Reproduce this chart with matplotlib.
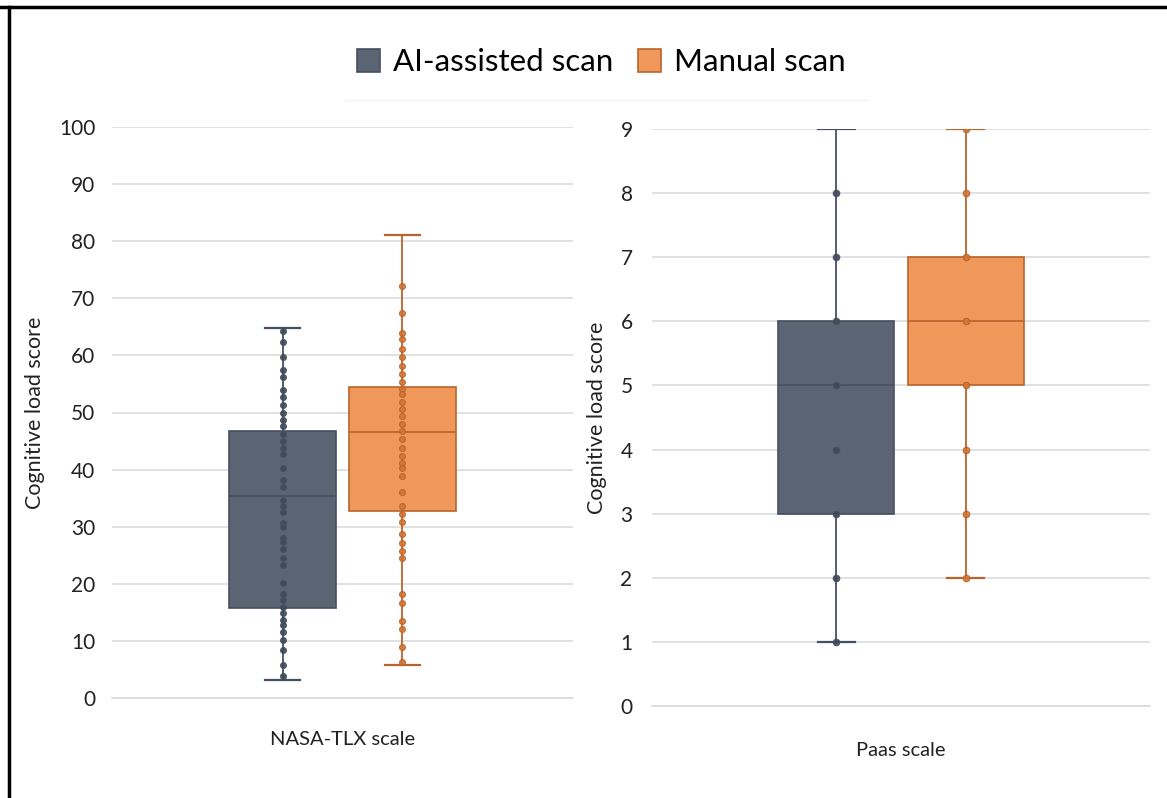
import matplotlib.pyplot as plt
from matplotlib.patches import Patch
from matplotlib.lines import Line2D

plt.rcParams['font.family'] = ['Lato', 'DejaVu Sans']

groups = ['AI-assisted scan', 'Manual scan']

# NASA-TLX scores
tlx_ai = [64.3, 62.4, 59.7, 57.4, 56.3, 53.9, 52.7, 51.4, 50.0, 48.7, 47.6, 46.2,
          45.0, 43.8, 42.7, 40.2, 38.2, 37.0, 34.7, 33.7, 32.5, 30.7, 30.0, 28.1,
          27.3, 26.1, 24.6, 23.3, 20.1, 18.3, 17.2, 16.0, 14.8, 13.7, 12.8, 11.5,
          10.2, 8.4, 5.7, 3.9]
tlx_manual = [72.2, 67.4, 64.0, 62.9, 61.2, 59.7, 58.2, 56.7, 55.4, 54.2, 53.2, 51.8,
              50.6, 49.3, 48.0, 46.8, 45.4, 43.8, 42.3, 41.2, 40.2, 38.8, 36.0, 33.7,
              32.3, 30.8, 28.7, 27.1, 25.7, 24.6, 18.3, 16.6, 13.4, 12.1, 8.9, 6.3]
# box stats: whisker low, q1, median, q3, whisker high
tlx_ai_box = [3.2, 15.7, 35.4, 46.8, 64.8]
tlx_manual_box = [5.7, 32.8, 46.6, 54.4, 81.0]

paas_ai = [1, 2, 3, 4, 5, 6, 7, 8]
paas_manual = [2, 3, 4, 5, 6, 7, 8, 9]
paas_ai_box = [1, 3, 5, 6, 9]
paas_manual_box = [2, 5, 6, 7, 9]

fill_cols = ['#5a6473', '#f0975a']
edge_cols = ['#465060', '#b8642c']
dot_cols = ['#3e4858', '#d4742f']

W, H = 1167, 798
fig = plt.figure(figsize=(W / 100, H / 100), dpi=100)


def make_stats(b):
    return {'whislo': b[0], 'q1': b[1], 'med': b[2], 'q3': b[3], 'whishi': b[4], 'fliers': []}


def draw_panel(ax, boxes, points, yticks, xlabel, dot_size):
    pos = [-0.13, 0.13]
    for i in range(2):
        ax.bxp([make_stats(boxes[i])], positions=[pos[i]], widths=0.233, capwidths=0.075,
               patch_artist=True, showfliers=False,
               boxprops=dict(facecolor=fill_cols[i], edgecolor=edge_cols[i], linewidth=1.2),
               medianprops=dict(color=edge_cols[i], linewidth=1.2),
               whiskerprops=dict(color=edge_cols[i], linewidth=1.3),
               capprops=dict(color=edge_cols[i], linewidth=1.6))
        ax.scatter([pos[i]] * len(points[i]), points[i], s=dot_size, color=dot_cols[i],
                   edgecolor=edge_cols[i], linewidth=0.8, alpha=0.9, zorder=4)
    ax.set_xlim(-0.5, 0.5)
    ax.set_ylim(yticks[0], yticks[-1])
    ax.set_yticks(yticks)
    ax.set_xticks([])
    ax.set_xlabel(xlabel, fontsize=14.5, color='#222222', labelpad=24)
    ax.set_ylabel('Cognitive load score', fontsize=15.5, color='#222222', labelpad=10)
    ax.grid(axis='y', color='#d9d9d9', linewidth=1.1)
    ax.set_axisbelow(True)
    for s in ['top', 'right', 'left']:
        ax.spines[s].set_visible(False)
    ax.spines['bottom'].set_color('#d9d9d9')
    ax.spines['bottom'].set_linewidth(1.1)
    ax.tick_params(axis='y', length=0, labelsize=15, pad=12, labelcolor='#222222')


ax1 = fig.add_axes([112 / W, 1 - 698 / H, 461 / W, 571 / H])
draw_panel(ax1, [tlx_ai_box, tlx_manual_box], [tlx_ai, tlx_manual],
           list(range(0, 101, 10)), 'NASA-TLX scale', 18)

ax2 = fig.add_axes([652 / W, 1 - 706 / H, 498 / W, 577 / H])
draw_panel(ax2, [paas_ai_box, paas_manual_box], [paas_ai, paas_manual],
           list(range(0, 10)), 'Paas scale', 22)
ax2.tick_params(axis='y', pad=14)
ax2.xaxis.labelpad = 26

handles = [Patch(facecolor=fill_cols[i], edgecolor=edge_cols[i], linewidth=1.2) for i in range(2)]
fig.legend(handles, groups, loc='center', bbox_to_anchor=(0.515, 1 - 62 / H), ncol=2,
           fontsize=22.5, frameon=False, handlelength=0.75, handleheight=0.75,
           handletextpad=0.4, columnspacing=0.8)

# screenshot frame edges and faint legend rule
fig.add_artist(Line2D([0, 1], [1 - 7 / H, 1 - 7 / H], color='black', linewidth=2.5))
fig.add_artist(Line2D([9 / W, 9 / W], [0, 1 - 7 / H], color='black', linewidth=2.5))
fig.add_artist(Line2D([345 / W, 868 / W], [1 - 100 / H, 1 - 100 / H], color='#f2f2f2', linewidth=1))

fig.savefig('out.png', dpi=100)
